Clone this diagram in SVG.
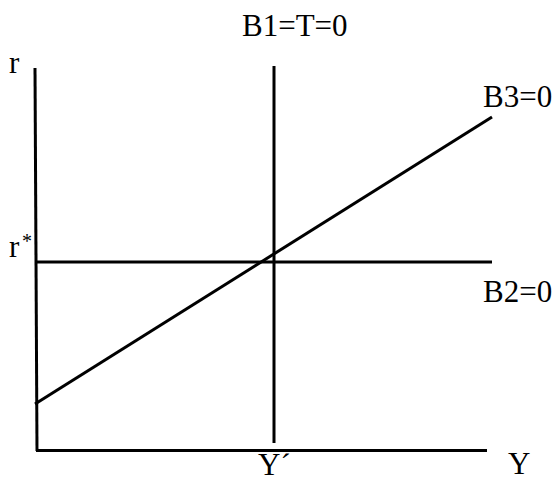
<svg xmlns="http://www.w3.org/2000/svg" width="557" height="477" viewBox="0 0 557 477">
<style>
.ln{stroke:#000;stroke-width:3;fill:none}
</style>
<rect width="557" height="477" fill="#fff"/>
<g id="connectors">
<path id="axis-r" class="ln" d="M35,68 L37,451"/>
<path id="axis-Y" class="ln" d="M36,450.5 L487,450.5"/>
<path id="B1" class="ln" d="M274,66 L274,443"/>
<path id="B2" class="ln" d="M35,262 L492,262"/>
<path id="B3" class="ln" d="M35,404 L492,117"/>
</g>
<g font-family="Times New Roman, Liberation Serif, Times, Tinos, Nimbus Roman, FreeSerif, serif" font-size="31" fill="#000">
<g id="label-r"><text x="9" y="73">r</text></g>
<g id="label-rstar"><text x="9" y="257">r</text><text x="22" y="248" font-size="20">*</text></g>
<g id="label-B1"><text x="242" y="36">B1=T=0</text></g>
<g id="label-B3"><text x="483" y="107">B3=0</text></g>
<g id="label-B2"><text x="483" y="302">B2=0</text></g>
<g id="label-Yprime"><text x="258" y="475">Y´</text></g>
<g id="label-Y"><text x="508" y="474">Y</text></g>
</g>
</svg>
